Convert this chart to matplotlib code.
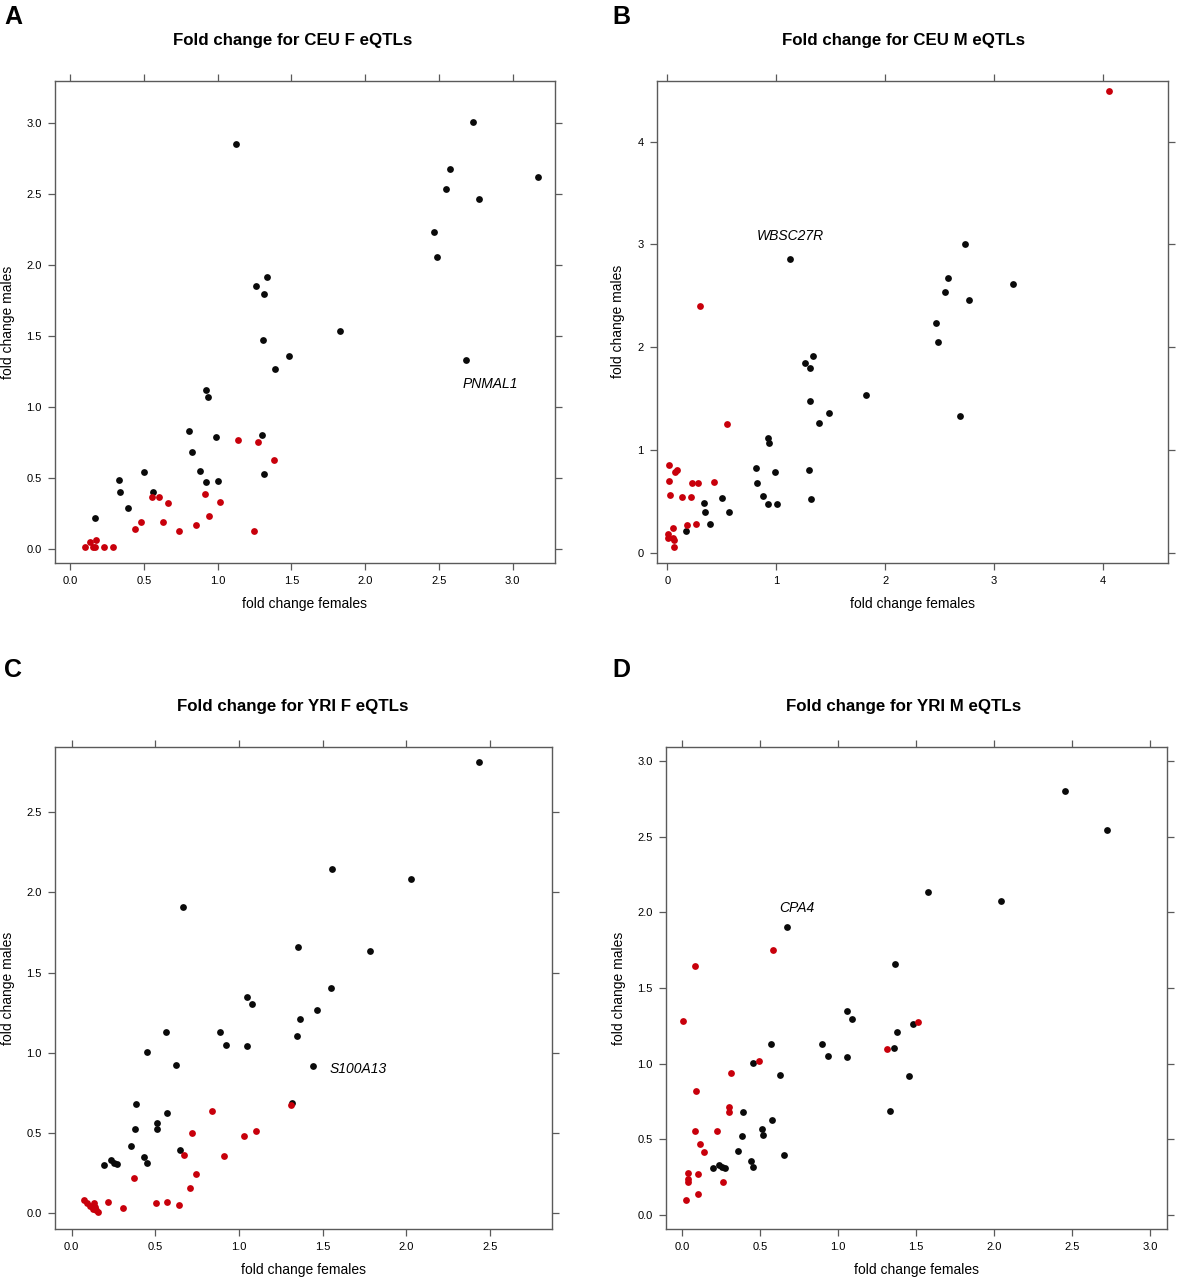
import matplotlib
matplotlib.use("Agg")
import matplotlib.pyplot as plt
from matplotlib.ticker import FormatStrFormatter

# ---------------- data ----------------
# CEU eQTLs shared by both sexes (black, same in panels A and B)
ceu_shared_f = [1.123, 2.732, 2.574, 3.175, 2.547, 2.771, 2.468, 2.490, 1.336, 1.263,
                1.313, 1.828, 1.308, 1.487, 1.390, 2.685, 0.922, 0.936, 0.809, 0.990,
                1.304, 0.825, 0.500, 0.879, 0.922, 1.005, 1.317, 0.334, 0.341, 0.561,
                0.393, 0.169]
ceu_shared_m = [2.855, 3.008, 2.675, 2.618, 2.536, 2.463, 2.235, 2.054, 1.915, 1.850,
                1.798, 1.532, 1.473, 1.358, 1.267, 1.332, 1.117, 1.070, 0.826, 0.789,
                0.803, 0.684, 0.538, 0.550, 0.472, 0.479, 0.526, 0.484, 0.401, 0.401,
                0.285, 0.214]
# CEU female-specific eQTLs (red, panel A)
ceu_fonly_f = [1.141, 1.273, 1.383, 0.558, 0.601, 0.664, 0.915, 1.019, 0.940, 0.483,
               0.439, 0.628, 0.741, 0.856, 1.249, 0.102, 0.134, 0.176, 0.154, 0.172,
               0.233, 0.292]
ceu_fonly_m = [0.766, 0.754, 0.627, 0.366, 0.366, 0.322, 0.383, 0.329, 0.228, 0.188,
               0.140, 0.188, 0.124, 0.169, 0.122, 0.011, 0.044, 0.059, 0.011, 0.011,
               0.009, 0.013]
# CEU male-specific eQTLs (red, panel B)
ceu_monly_f = [0.550, 0.017, 0.072, 0.090, 0.017, 0.222, 0.283, 0.427, 0.026, 0.131,
               0.219, 0.179, 0.259, 0.051, 0.007, 0.007, 0.053, 0.057, 0.060, 0.299,
               4.060]
ceu_monly_m = [1.251, 0.858, 0.787, 0.804, 0.699, 0.683, 0.683, 0.690, 0.563, 0.547,
               0.541, 0.268, 0.278, 0.239, 0.184, 0.145, 0.145, 0.123, 0.060, 2.399,
               4.490]
# YRI shared eQTLs, panel C (black)
yri_c_shared_f = [0.452, 0.623, 1.440, 1.319, 0.382, 0.568, 0.508, 0.380, 0.512, 0.353,
                  0.434, 0.647, 0.450, 0.195, 0.235, 0.253, 0.271, 2.433, 1.558, 2.030,
                  0.663, 1.355, 1.781, 1.552, 1.046, 1.080, 1.466, 1.367, 0.564, 0.886,
                  0.924, 1.048, 1.347]
yri_c_shared_m = [1.003, 0.924, 0.918, 0.689, 0.681, 0.625, 0.565, 0.523, 0.523, 0.419,
                  0.353, 0.393, 0.313, 0.303, 0.332, 0.312, 0.305, 2.810, 2.143, 2.085,
                  1.910, 1.659, 1.634, 1.402, 1.350, 1.302, 1.269, 1.213, 1.132, 1.132,
                  1.051, 1.044, 1.107]
# YRI female-specific eQTLs (red, panel C)
yri_fonly_f = [1.313, 0.839, 0.717, 1.100, 1.030, 0.673, 0.910, 0.743, 0.371, 0.705,
               0.217, 0.305, 0.504, 0.568, 0.640, 0.074, 0.090, 0.110, 0.126, 0.135,
               0.145, 0.159, 0.139]
yri_fonly_m = [0.675, 0.637, 0.498, 0.511, 0.480, 0.361, 0.359, 0.247, 0.222, 0.160,
               0.072, 0.033, 0.066, 0.072, 0.050, 0.085, 0.062, 0.044, 0.029, 0.062,
               0.022, 0.010, 0.041]
# YRI shared eQTLs, panel D (black)
yri_d_shared_f = [1.367, 1.057, 1.091, 1.478, 1.380, 1.359, 0.572, 0.896, 0.934, 1.059,
                  0.454, 0.630, 1.458, 1.330, 0.388, 0.577, 0.514, 0.521, 0.386, 0.356,
                  0.654, 0.440, 0.456, 0.199, 0.240, 0.257, 0.276, 2.453, 2.723, 1.575,
                  2.048, 0.671]
yri_d_shared_m = [1.657, 1.346, 1.297, 1.264, 1.209, 1.103, 1.129, 1.129, 1.050, 1.041,
                  1.001, 0.922, 0.917, 0.687, 0.679, 0.624, 0.564, 0.524, 0.522, 0.421,
                  0.392, 0.352, 0.315, 0.306, 0.330, 0.315, 0.306, 2.803, 2.544, 2.136,
                  2.078, 1.902]
# YRI male-specific eQTLs (red, panel D)
yri_monly_f = [0.583, 0.086, 0.006, 1.513, 1.316, 0.491, 0.315, 0.092, 0.304, 0.304,
               0.084, 0.223, 0.114, 0.139, 0.035, 0.035, 0.037, 0.105, 0.260, 0.105,
               0.024]
yri_monly_m = [1.754, 1.646, 1.284, 1.273, 1.098, 1.015, 0.937, 0.820, 0.714, 0.677,
               0.553, 0.553, 0.467, 0.412, 0.273, 0.237, 0.213, 0.268, 0.213, 0.138,
               0.096]

titles = ["Fold change for CEU F eQTLs", "Fold change for CEU M eQTLs",
          "Fold change for YRI F eQTLs", "Fold change for YRI M eQTLs"]
panel_letters = ["A", "B", "C", "D"]
gene_labels = ["PNMAL1", "WBSC27R", "S100A13", "CPA4"]
gene_label_pos = [(2.66, 1.16), (0.825, 3.08), (1.544, 0.897), (0.622, 2.03)]
xticks_list = [[0, 0.5, 1.0, 1.5, 2.0, 2.5, 3.0], [0, 1, 2, 3, 4],
               [0, 0.5, 1.0, 1.5, 2.0, 2.5], [0, 0.5, 1.0, 1.5, 2.0, 2.5, 3.0]]
yticks_list = [[0, 0.5, 1.0, 1.5, 2.0, 2.5, 3.0], [0, 1, 2, 3, 4],
               [0, 0.5, 1.0, 1.5, 2.0, 2.5], [0, 0.5, 1.0, 1.5, 2.0, 2.5, 3.0]]
tick_fmt = ["%.1f", "%d", "%.1f", "%.1f"]
xlims = [(-0.102, 3.288), (-0.099, 4.597), (-0.100, 2.873), (-0.103, 3.111)]
ylims = [(-0.104, 3.300), (-0.095, 4.590), (-0.100, 2.907), (-0.098, 3.098)]

black_sets = [(ceu_shared_f, ceu_shared_m), (ceu_shared_f, ceu_shared_m),
              (yri_c_shared_f, yri_c_shared_m), (yri_d_shared_f, yri_d_shared_m)]
red_sets = [(ceu_fonly_f, ceu_fonly_m), (ceu_monly_f, ceu_monly_m),
            (yri_fonly_f, yri_fonly_m), (yri_monly_f, yri_monly_m)]

# ---------------- layout ----------------
W, H = 1177, 1280
plt.rcParams['font.family'] = ['Liberation Sans', 'DejaVu Sans']
fig = plt.figure(figsize=(W / 100, H / 100), dpi=100)

# axes boxes in pixels: left, top, right, bottom
boxes = [(55, 80.7, 555, 563.3), (656.7, 81, 1167.7, 562.7),
         (55, 746.7, 552.3, 1229.3), (666, 746.7, 1167.3, 1229.3)]
title_pos = [(293, 41), (904, 41), (293, 707), (904, 707)]
letter_pos = [(4, 17), (612, 17), (4, 670), (612, 670)]
ylabel_x = [8, 618, 8, 619]

RED = '#c8000b'
FRAME = '#5a5a5a'

def fx(x):
    return x / W

def fy(y):
    return 1 - y / H

for i in range(4):
    l, t, r, b = boxes[i]
    ax = fig.add_axes([fx(l), fy(b), (r - l) / W, (b - t) / H])
    bf, bm = black_sets[i]
    rf, rm = red_sets[i]
    ax.scatter(bf, bm, s=24, c='#0a0a0a', linewidths=0, zorder=3)
    ax.scatter(rf, rm, s=24, c=RED, linewidths=0, zorder=4)
    ax.set_xlim(*xlims[i])
    ax.set_ylim(*ylims[i])
    ax.set_xticks(xticks_list[i])
    ax.set_yticks(yticks_list[i])
    ax.xaxis.set_major_formatter(FormatStrFormatter(tick_fmt[i]))
    ax.yaxis.set_major_formatter(FormatStrFormatter(tick_fmt[i]))
    ax.tick_params(axis='both', which='both', direction='out', length=5, width=0.9,
                   color=FRAME, labelsize=8, pad=4.5, top=True, right=True,
                   labeltop=False, labelright=False)
    for sp in ax.spines.values():
        sp.set_color(FRAME)
        sp.set_linewidth(1.0)
    gx, gy = gene_label_pos[i]
    ax.text(gx, gy, gene_labels[i], fontsize=10, style='italic', ha='left', va='center')
    # titles, labels, panel letters
    tx, ty = title_pos[i]
    fig.text(fx(tx), fy(ty), titles[i], fontsize=12.2, fontweight='bold',
             ha='center', va='center')
    lx, ly = letter_pos[i]
    fig.text(fx(lx), fy(ly), panel_letters[i], fontsize=18, fontweight='bold',
             ha='left', va='center')
    fig.text(fx((l + r) / 2), fy(b + 41), "fold change females", fontsize=10,
             ha='center', va='center')
    fig.text(fx(ylabel_x[i]), fy((t + b) / 2), "fold change males", fontsize=10,
             ha='center', va='center', rotation=90)

fig.savefig("out.png", dpi=100)
